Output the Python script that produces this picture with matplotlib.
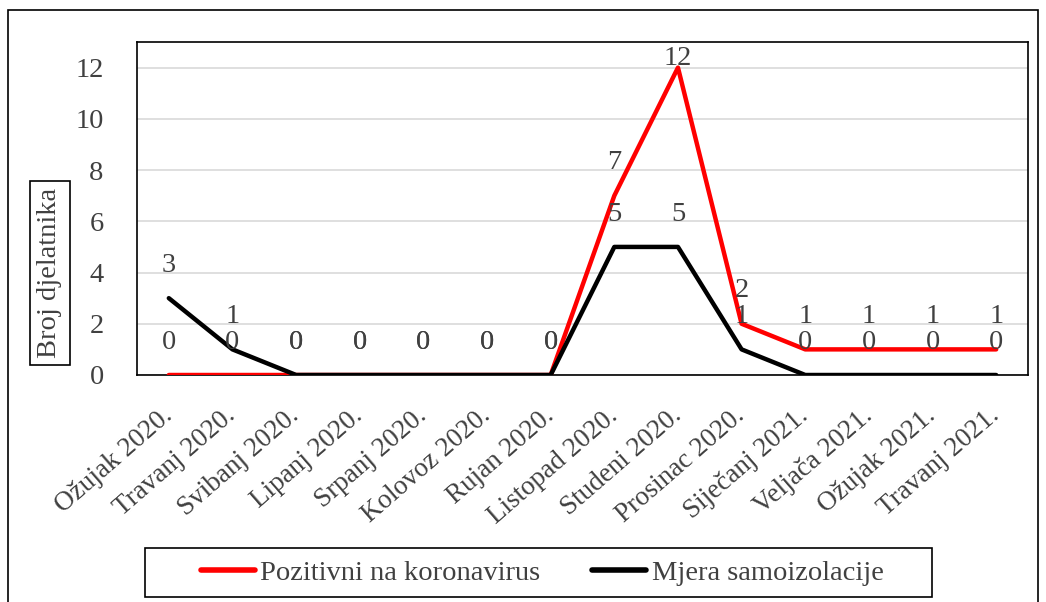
import matplotlib
matplotlib.use("Agg")
import matplotlib.pyplot as plt
from matplotlib.patches import Rectangle
from matplotlib.lines import Line2D

months = ["Ožujak 2020.", "Travanj 2020.", "Svibanj 2020.", "Lipanj 2020.",
          "Srpanj 2020.", "Kolovoz 2020.", "Rujan 2020.", "Listopad 2020.",
          "Studeni 2020.", "Prosinac 2020.", "Siječanj 2021.", "Veljača 2021.",
          "Ožujak 2021.", "Travanj 2021."]
pozitivni = [0, 0, 0, 0, 0, 0, 0, 7, 12, 2, 1, 1, 1, 1]
samoizolacija = [3, 1, 0, 0, 0, 0, 0, 5, 5, 1, 0, 0, 0, 0]
yticks = [0, 2, 4, 6, 8, 10, 12]

TXT = "#404040"
FS = 20.5
plt.rcParams["font.family"] = ["Liberation Serif", "DejaVu Serif"]

W, H = 1046, 602
fig = plt.figure(figsize=(W / 100, H / 100), dpi=100)

# outer frame
fig.patches.append(Rectangle((8 / W, -0.01), (1038 - 8) / W, 1.01 - 10 / H,
                             transform=fig.transFigure, fill=False,
                             edgecolor="black", lw=1.2))

ax = fig.add_axes([137 / W, 1 - 375 / H, (1028 - 137) / W, (375 - 42) / H])
x = list(range(len(months)))
ax.plot(x, pozitivni, color="#ff0000", lw=3.2, solid_capstyle="round", zorder=3)
ax.plot(x, samoizolacija, color="black", lw=3.2, solid_capstyle="round", zorder=4)

ax.set_xlim(-0.5, len(months) - 0.5)
ax.set_ylim(0, 13)
ax.set_yticks(yticks)
ax.set_yticklabels([str(v) for v in yticks], fontsize=FS, color=TXT)
ax.yaxis.grid(True, color="#d9d9d9", lw=1.2)
ax.set_axisbelow(True)
ax.tick_params(axis="both", length=0, pad=24)
ax.tick_params(axis="x", pad=27)
ax.set_xticks(x)
ax.set_xticklabels(months, fontsize=19.5, color=TXT, rotation=41,
                   ha="right", va="center", rotation_mode="anchor")
for s in ax.spines.values():
    s.set_color("black")
    s.set_linewidth(1.2)

# data labels, placed above each point (clamped inside the plot)
for series in (pozitivni, samoizolacija):
    for xi, v in zip(x, series):
        ly = min(v + 1.28, 12.35)
        ax.text(xi, ly, str(v), ha="center", va="center", fontsize=FS,
                color=TXT, zorder=5)

fig.text(50 / W, 1 - 273 / H, "Broj djelatnika", rotation=90, ha="center",
         va="center", fontsize=FS, color=TXT,
         bbox=dict(boxstyle="square,pad=0.25", fc="white", ec="black", lw=1.2))

# legend
fig.patches.append(Rectangle((145 / W, 1 - 597 / H), (932 - 145) / W, (597 - 548) / H,
                             transform=fig.transFigure, fill=False,
                             edgecolor="black", lw=1.2))
handles = [Line2D([], [], color="#ff0000", lw=4, solid_capstyle="round"),
           Line2D([], [], color="black", lw=4, solid_capstyle="round")]
fig.legend(handles, ["Pozitivni na koronavirus", "Mjera samoizolacije"],
           loc="center", bbox_to_anchor=(542 / W, 1 - 573 / H), ncol=2,
           frameon=False, fontsize=FS, labelcolor=TXT, handlelength=1.9,
           handletextpad=0.2, columnspacing=1.8)

fig.savefig("out.png", dpi=100)
